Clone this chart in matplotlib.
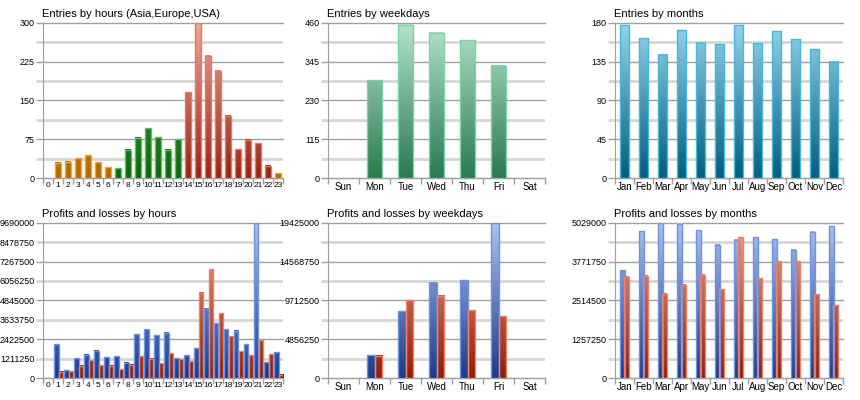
import numpy as np
import matplotlib
matplotlib.use("Agg")
import matplotlib.pyplot as plt
from matplotlib.colors import LinearSegmentedColormap
from matplotlib.patches import Rectangle

plt.rcParams['font.family'] = ['Liberation Sans', 'DejaVu Sans']

# ---------------- data ----------------
hours = [str(h) for h in range(24)]
entries_hours = [0, 29, 31, 38, 44, 30, 21, 19, 55, 78, 96, 79, 55, 75,
                 166, 300, 236, 207, 120, 56, 74, 67, 24, 9]
hour_region = ['asia'] * 7 + ['europe'] * 7 + ['usa'] * 9 + ['asia']

weekdays = ['Sun', 'Mon', 'Tue', 'Wed', 'Thu', 'Fri', 'Sat']
entries_weekdays = [0, 290, 454, 430, 408, 332, 0]

months = ['Jan', 'Feb', 'Mar', 'Apr', 'May', 'Jun', 'Jul', 'Aug', 'Sep', 'Oct', 'Nov', 'Dec']
entries_months = [177, 162, 143, 171, 157, 155, 177, 156, 170, 161, 149, 135]

profit_hours = [0, 2116000, 498000, 1245000, 1452000, 1701000, 1307000, 1369000,
                954000, 2739000, 3050000, 2677000, 2822000, 1245000, 1432000,
                1867000, 4316000, 3424000, 3029000, 2946000, 2116000, 9690000,
                975000, 1618000]
loss_hours = [0, 394000, 415000, 768000, 1120000, 788000, 768000, 560000,
              830000, 1369000, 1203000, 934000, 1556000, 1183000, 1058000,
              5312000, 6785000, 4046000, 2594000, 1681000, 1432000, 2365000,
              1494000, 207000]

profit_weekdays = [0, 2829000, 8361000, 11896000, 12229000, 19425000, 0]
loss_weekdays = [0, 2787000, 9733000, 10316000, 8486000, 7695000, 0]

profit_months = [3489000, 4749000, 5029000, 4997000, 4792000, 4318000,
                 4469000, 4555000, 4491000, 4157000, 4738000, 4911000]
loss_months = [3285000, 3306000, 2725000, 3015000, 3338000, 2875000,
               4555000, 3231000, 3780000, 3780000, 2714000, 2348000]

ticks_entries_hours = [0, 75, 150, 225, 300]
ticks_entries_weekdays = [0, 115, 230, 345, 460]
ticks_entries_months = [0, 45, 90, 135, 180]
ticks_pl_hours = [0, 1211250, 2422500, 3633750, 4845000, 6056250, 7267500, 8478750, 9690000]
ticks_pl_weekdays = [0, 4856250, 9712500, 14568750, 19425000]
ticks_pl_months = [0, 1257250, 2514500, 3771750, 5029000]

titles = ['Entries by hours (Asia,Europe,USA)', 'Entries by weekdays', 'Entries by months',
          'Profits and losses by hours', 'Profits and losses by weekdays', 'Profits and losses by months']

# ---------------- styles ----------------
def cmap(bottom, top):
    return LinearSegmentedColormap.from_list('c', [bottom, top])

STY = {
    'asia':   (cmap('#b06800', '#f0b040'), '#f0a830'),
    'europe': (cmap('#0e640e', '#52b052'), '#5cc05c'),
    'usa':    (cmap('#962410', '#f0a898'), '#e47a66'),
    'wk':     (cmap('#2a7a50', '#b4e4cc'), '#78d4a4'),
    'mon':    (cmap('#005f80', '#94d4ea'), '#44b8e0'),
    'profit': (cmap('#1c3a8c', '#aac2f2'), '#6c92e2'),
    'loss':   (cmap('#8e1e06', '#f4a492'), '#f08068'),
}

MAJ = '#a0a0a0'
MIN = '#d6d6d6'


def gbar(ax, x, w, h, ymax, key):
    if h <= 0:
        return
    cm, edge = STY[key]
    grad = np.linspace(0, h / ymax, 128).reshape(-1, 1)
    ax.imshow(grad, extent=(x - w / 2, x + w / 2, 0, h), origin='lower', cmap=cm,
              vmin=0, vmax=1, aspect='auto', zorder=3, interpolation='bilinear')
    ax.add_patch(Rectangle((x - w / 2, 0), w, h, fill=False, edgecolor=edge, lw=1.0, zorder=4))


def style(ax, title, cats, yt, all_labels=False, xsize=7):
    n = len(cats)
    ymax = yt[-1]
    ax.set_xlim(-0.5, n - 0.5)
    ax.set_ylim(0, ymax)
    for s in ['top', 'right']:
        ax.spines[s].set_visible(False)
    ax.spines['left'].set_color(MAJ)
    ax.spines['bottom'].set_color(MAJ)
    if all_labels:
        major = yt[::2]
        minor = yt[1::2]
        ax.set_yticks(major)
        ax.set_yticklabels([str(v) for v in major])
        ax.set_yticks(minor, minor=True)
        ax.set_yticklabels([str(v) for v in minor], minor=True)
    else:
        ax.set_yticks(yt)
        ax.set_yticklabels([str(v) for v in yt])
        minor = [(yt[i] + yt[i + 1]) / 2 for i in range(len(yt) - 1)]
        ax.set_yticks(minor, minor=True)
    ax.tick_params(axis='y', which='major', length=5, color=MAJ, width=1, labelsize=6.5, pad=1)
    ax.tick_params(axis='y', which='minor', length=5, color=MIN, width=2, labelsize=6.5, pad=1)
    ax.yaxis.grid(True, which='major', color=MAJ, lw=1, zorder=0)
    ax.yaxis.grid(True, which='minor', color=MIN, lw=2, zorder=0)
    ax.set_xticks(range(n))
    ax.set_xticklabels(cats)
    ax.set_xticks([i + 0.5 for i in range(-1, n)], minor=True)
    ax.tick_params(axis='x', which='major', length=0, labelsize=xsize, pad=3)
    ax.tick_params(axis='x', which='minor', length=4, color=MAJ, width=1)
    ax.set_axisbelow(True)
    ax.set_title(title, loc='left', fontsize=8, pad=4, x=-0.005)
    for gl in ax.get_ygridlines():
        gl.set_clip_on(False)


fig = plt.figure(figsize=(8.6, 4.0), dpi=100)
fig.patch.set_facecolor('white')

W = 860.0
H = 400.0
cols = [(43, 283), (328, 545), (615, 843)]
rows = [(22.7, 178), (222.7, 378)]
axes = {}
for r, (t, b) in enumerate(rows):
    for c, (l, rr) in enumerate(cols):
        axes[(r, c)] = fig.add_axes([l / W, 1 - b / H, (rr - l) / W, (b - t) / H])

# entries by hours
ax = axes[(0, 0)]
for i, v in enumerate(entries_hours):
    gbar(ax, i, 0.6, v, ticks_entries_hours[-1], hour_region[i])
style(ax, titles[0], hours, ticks_entries_hours, xsize=6)

# entries by weekdays
ax = axes[(0, 1)]
for i, v in enumerate(entries_weekdays):
    gbar(ax, i, 0.48, v, ticks_entries_weekdays[-1], 'wk')
style(ax, titles[1], weekdays, ticks_entries_weekdays)

# entries by months
ax = axes[(0, 2)]
for i, v in enumerate(entries_months):
    gbar(ax, i, 0.49, v, ticks_entries_months[-1], 'mon')
style(ax, titles[2], months, ticks_entries_months)

# P/L by hours
ax = axes[(1, 0)]
ym = ticks_pl_hours[-1]
for i in range(24):
    gbar(ax, i - 0.225 + 0.05, 0.45, profit_hours[i], ym, 'profit')
    gbar(ax, i + 0.225 + 0.05, 0.45, loss_hours[i], ym, 'loss')
style(ax, titles[3], hours, ticks_pl_hours, all_labels=True, xsize=6)

# P/L by weekdays
ax = axes[(1, 1)]
ym = ticks_pl_weekdays[-1]
for i in range(7):
    gbar(ax, i - 0.12, 0.24, profit_weekdays[i], ym, 'profit')
    gbar(ax, i + 0.12, 0.24, loss_weekdays[i], ym, 'loss')
style(ax, titles[4], weekdays, ticks_pl_weekdays)

# P/L by months
ax = axes[(1, 2)]
ym = ticks_pl_months[-1]
for i in range(12):
    gbar(ax, i - 0.122, 0.245, profit_months[i], ym, 'profit')
    gbar(ax, i + 0.122, 0.245, loss_months[i], ym, 'loss')
style(ax, titles[5], months, ticks_pl_months)

fig.savefig('out.png', dpi=100, facecolor='white')
